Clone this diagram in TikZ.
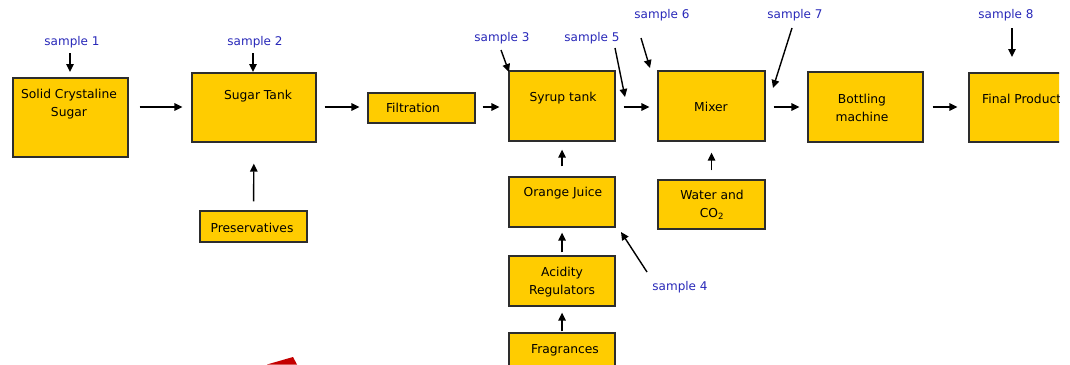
\documentclass[tikz,border=0pt]{standalone}
\usepackage{fontspec}
\setmainfont{DejaVu Sans}
\usetikzlibrary{arrows.meta}
\definecolor{boxfill}{RGB}{255,204,0}
\definecolor{boxline}{RGB}{45,45,45}
\definecolor{sampleblue}{RGB}{40,40,185}
\definecolor{wedgered}{RGB}{196,0,0}
\tikzset{
  box/.style={draw=boxline, fill=boxfill, line width=1.3pt, inner sep=0pt},
  txt/.style={font=\fontsize{12.3}{18}\selectfont, text=black, align=center, inner sep=0pt},
  smp/.style={font=\fontsize{12}{14}\selectfont, text=sampleblue, inner sep=0pt},
  arr/.style={draw=black, line width=1.4pt, -{Triangle[length=8pt,width=7.5pt]}}
}
\begin{document}
\begin{tikzpicture}[x=1pt,y=-1pt]
\clip (0,0) rectangle (1070,364);
\fill[white] (0,0) rectangle (1070,364);
\coordinate (row) at (0,107);

% boxes
\node[box, minimum width=115pt, minimum height=79pt] (solid) at (70.5,117.5) {};
\node[txt] (solid-t) at (69,104) {Solid Crystaline\\Sugar};
\node[box, minimum width=124pt, minimum height=69pt] (sugartank) at (254,107.5) {};
\node[txt] (sugartank-t) at (258,96) {Sugar Tank};
\node[box, minimum width=107pt, minimum height=31pt] (pres) at (253.5,226.5) {};
\node[txt] (pres-t) at (252,228) {Preservatives};
\node[box, minimum width=107pt, minimum height=30pt] (filt) at (421.5,108) {};
\node[txt] (filt-t) at (413,108) {Filtration};
\node[box, minimum width=106pt, minimum height=70pt] (syrup) at (562,106) {};
\node[txt] (syrup-t) at (563,98) {Syrup tank};
\node[box, minimum width=106pt, minimum height=50pt] (oj) at (562,202) {};
\node[txt] (oj-t) at (563,193) {Orange Juice};
\node[box, minimum width=106pt, minimum height=50pt] (acid) at (562,281) {};
\node[txt] (acid-t) at (562,282) {Acidity\\Regulators};
\node[box, minimum width=106pt, minimum height=34pt] (frag) at (562,350) {};
\node[txt] (frag-t) at (565,350) {Fragrances};
\node[box, minimum width=107pt, minimum height=70pt] (mixer) at (711.5,106) {};
\node[txt] (mixer-t) at (711,107) {Mixer};
\node[box, minimum width=107pt, minimum height=49pt] (water) at (711.5,204.5) {};
\node[txt] (water-t) at (712,205) {Water and\\CO\textsubscript{2}};
\node[box, minimum width=115pt, minimum height=70pt] (bottle) at (865.5,107) {};
\node[txt] (bottle-t) at (862,108) {Bottling\\machine};
\begin{scope}
\clip (960,60) rectangle (1059,150);
\node[box, minimum width=106pt, minimum height=69pt] (final) at (1022,107.5) {};
\node[txt, anchor=west] (final-t) at (982,99) {Final Product};
\end{scope}

% main flow
\draw[arr, shorten <=11pt, shorten >=9pt] (solid.east |- row) -- (sugartank.west |- row);
\draw[arr, shorten <=8pt, shorten >=8pt] (sugartank.east |- row) -- (filt.west |- row);
\draw[arr, shorten <=7pt, shorten >=9pt] (filt.east |- row) -- (syrup.west |- row);
\draw[arr, shorten <=8pt, shorten >=8pt] (syrup.east |- row) -- (mixer.west |- row);
\draw[arr, shorten <=8pt, shorten >=8pt] (mixer.east |- row) -- (bottle.west |- row);
\draw[arr, shorten <=9pt, shorten >=11pt] (bottle.east |- row) -- (final.west |- row);

% feeds
\draw[arr, shorten <=9pt, shorten >=21pt] (pres.north) -- (sugartank.south);
\draw[arr, shorten <=10pt, shorten >=8pt] (oj.north) -- (syrup.south);
\draw[arr, shorten <=3pt, shorten >=5pt] (acid.north) -- (oj.south);
\draw[arr, shorten <=1pt, shorten >=6pt] (frag.north) -- (acid.south);
\draw[arr, shorten <=9pt, shorten >=11pt] (water.north) -- (mixer.south);

% samples
\node[smp] (s1) at (72,42) {sample 1};
\node[smp] (s2) at (255,42) {sample 2};
\node[smp] (s3) at (502,38) {sample 3};
\node[smp] (s5) at (592,38) {sample 5};
\node[smp] (s6) at (662,15) {sample 6};
\node[smp] (s7) at (795,15) {sample 7};
\node[smp] (s8) at (1006,15) {sample 8};
\node[smp] (s4) at (680,287) {sample 4};

\coordinate (s1a) at (70,53);   \coordinate (s1b) at (70,72);
\coordinate (s2a) at (253,53);  \coordinate (s2b) at (253,72);
\coordinate (s3a) at (501,50);  \coordinate (s3b) at (509,72);
\coordinate (s5a) at (615,48);  \coordinate (s5b) at (625,97);
\coordinate (s6a) at (641,38);  \coordinate (s6b) at (650,68);
\coordinate (s7a) at (792,28);  \coordinate (s7b) at (773,88);
\coordinate (s8a) at (1012,28); \coordinate (s8b) at (1012,57);
\coordinate (s4a) at (647,272); \coordinate (s4b) at (621,232);
\draw[arr] (s1a) -- (s1b);
\draw[arr] (s2a) -- (s2b);
\draw[arr] (s3a) -- (s3b);
\draw[arr] (s5a) -- (s5b);
\draw[arr] (s6a) -- (s6b);
\draw[arr] (s7a) -- (s7b);
\draw[arr] (s8a) -- (s8b);
\draw[arr] (s4a) -- (s4b);

% red wedge at bottom
\fill[wedgered] (267,364.5) -- (293,357) -- (297,364.5) -- cycle;
\end{tikzpicture}
\end{document}
